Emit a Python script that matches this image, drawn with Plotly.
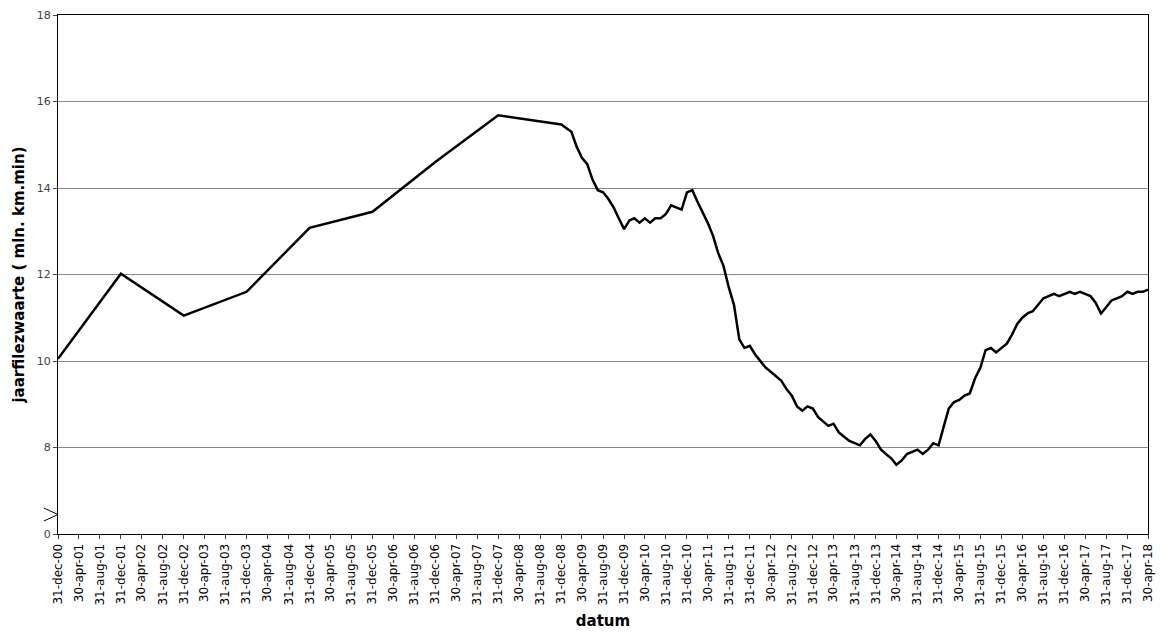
import plotly.graph_objects as go
import pandas as pd

annual_dates = ["2000-12-31","2001-12-31","2002-12-31","2003-12-31","2004-12-31",
                "2005-12-31","2006-12-31","2007-12-31","2008-12-31"]
annual_vals = [10.05,12.02,11.05,11.6,13.08,13.45,14.6,15.68,15.47]

monthly_start = "2009-01-31"
monthly_vals = [
 15.45,15.3,14.95,14.7,14.55,14.2,13.95,13.9,13.75,13.55,13.3,13.05,   # 2009
 13.25,13.3,13.2,13.3,13.2,13.3,13.3,13.4,13.6,13.55,13.5,13.9,        # 2010
 13.95,13.7,13.45,13.2,12.9,12.5,12.2,11.7,11.3,10.5,10.3,10.35,       # 2011
 10.15,10.0,9.85,9.75,9.65,9.55,9.35,9.2,8.95,8.85,8.95,8.9,           # 2012
 8.7,8.6,8.5,8.55,8.35,8.25,8.15,8.1,8.05,8.2,8.3,8.15,                # 2013
 7.95,7.85,7.75,7.6,7.7,7.85,7.9,7.95,7.85,7.95,8.1,8.05,              # 2014
 8.5,8.9,9.05,9.1,9.2,9.25,9.6,9.85,10.25,10.3,10.2,10.3,              # 2015
 10.4,10.6,10.85,11.0,11.1,11.15,11.3,11.45,11.5,11.55,11.5,11.55,     # 2016
 11.6,11.55,11.6,11.55,11.5,11.35,11.1,11.25,11.4,11.45,11.5,11.6,     # 2017
 11.55,11.6,11.6,11.65]                                                # 2018 (to Apr)

mdates = pd.date_range(monthly_start, periods=len(monthly_vals), freq="ME")
x = [pd.Timestamp(d) for d in annual_dates] + list(mdates[1:])
y = annual_vals + monthly_vals[1:]

tick_dates = list(pd.date_range("2000-12-31", "2018-04-30", freq="4ME"))
tick_text = [d.strftime("%d-%b-%y").lower() for d in tick_dates]

fig = go.Figure(go.Scatter(x=x, y=y, mode="lines", line=dict(color="black", width=2.5)))

ytick = [6,8,10,12,14,16,18]
ytext = ["0","8","10","12","14","16","18"]
fig.update_layout(
    width=1165, height=642, margin=dict(l=50, r=25, t=7, b=116),
    plot_bgcolor="white", paper_bgcolor="white", showlegend=False,
    font=dict(family="DejaVu Sans", size=12, color="black"),
    xaxis=dict(range=[tick_dates[0], tick_dates[-1]], tickvals=tick_dates, ticktext=tick_text,
               tickangle=-90, showgrid=False, showline=True, linecolor="black", mirror=True,
               ticks="outside", ticklen=4, tickfont=dict(size=12), automargin=False,
               ticklabeloverflow="allow",
               title=dict(text="<b>datum</b>", font=dict(size=15), standoff=10)),
    yaxis=dict(range=[6,18], tickvals=ytick, ticktext=ytext, showgrid=True, gridcolor="#888",
               showline=True, linecolor="black", mirror=True, ticks="outside", ticklen=4,
               tickfont=dict(size=11, color="#444"), automargin=False,
               ticklabeloverflow="allow",
               title=dict(text="<b>jaarfilezwaarte ( mln. km.min)</b>", font=dict(size=15), standoff=8)),
)
# axis break marker
fig.add_shape(type="path", xref="paper", yref="y",
              path="M -0.013 6.6 L 0.0 6.45 L -0.013 6.3",
              line=dict(color="black", width=1))
fig.write_html("out.html")
